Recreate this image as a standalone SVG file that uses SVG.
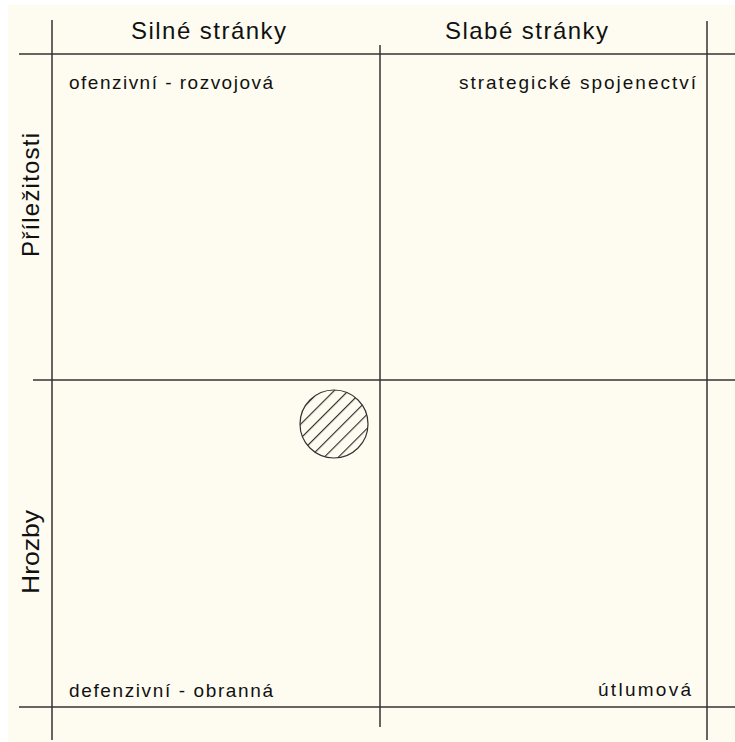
<svg xmlns="http://www.w3.org/2000/svg" width="735" height="742" viewBox="0 0 735 742">
<style>
.ln{stroke:#333333;stroke-width:1.5;fill:none}
.hd{font-family:"Liberation Sans",Arial,sans-serif;font-size:24px;fill:#111}
.sm{font-family:"Liberation Sans",Arial,sans-serif;font-size:19px;fill:#111}
</style>
<defs>
<pattern id="hatch" patternUnits="userSpaceOnUse" width="10" height="10" patternTransform="rotate(-45 334 424)">
<line x1="0" y1="0.6" x2="10" y2="0.6" stroke="#222" stroke-width="1.1"/>
</pattern>
</defs>
<rect x="0" y="0" width="735" height="742" fill="#ffffff"/>
<rect x="8" y="5" width="727" height="737" fill="#FEFCF1"/>
<g id="connectors">
<line class="ln" x1="52" y1="20" x2="52" y2="740"/>
<line class="ln" x1="380" y1="45" x2="380" y2="727"/>
<line class="ln" x1="707" y1="21" x2="707" y2="740"/>
<line class="ln" x1="19" y1="54" x2="735" y2="54"/>
<line class="ln" x1="33" y1="380" x2="735" y2="380"/>
<line class="ln" x1="19" y1="707" x2="735" y2="707"/>
</g>
<g id="header-strengths"><text class="hd" x="131" y="39" textLength="155" lengthAdjust="spacing">Silné stránky</text></g>
<g id="header-weaknesses"><text class="hd" x="445" y="39" textLength="163" lengthAdjust="spacing">Slabé stránky</text></g>
<g id="side-opportunities"><text class="hd" transform="translate(39,257) rotate(-90)" x="0" y="0" textLength="124" lengthAdjust="spacing">Příležitosti</text></g>
<g id="side-threats"><text class="hd" transform="translate(39,594) rotate(-90)" x="0" y="0" textLength="84" lengthAdjust="spacingAndGlyphs">Hrozby</text></g>
<g id="q-so"><text class="sm" x="69" y="89" textLength="204" lengthAdjust="spacing">ofenzivní - rozvojová</text></g>
<g id="q-wo"><text class="sm" x="459" y="89" textLength="237" lengthAdjust="spacing">strategické spojenectví</text></g>
<g id="q-st"><text class="sm" x="69" y="697" textLength="204" lengthAdjust="spacing">defenzivní - obranná</text></g>
<g id="q-wt"><text class="sm" x="598" y="696" textLength="93" lengthAdjust="spacing">útlumová</text></g>
<g id="position">
<circle cx="334" cy="424" r="34" fill="url(#hatch)" stroke="#333" stroke-width="1.2"/>
</g>
</svg>
